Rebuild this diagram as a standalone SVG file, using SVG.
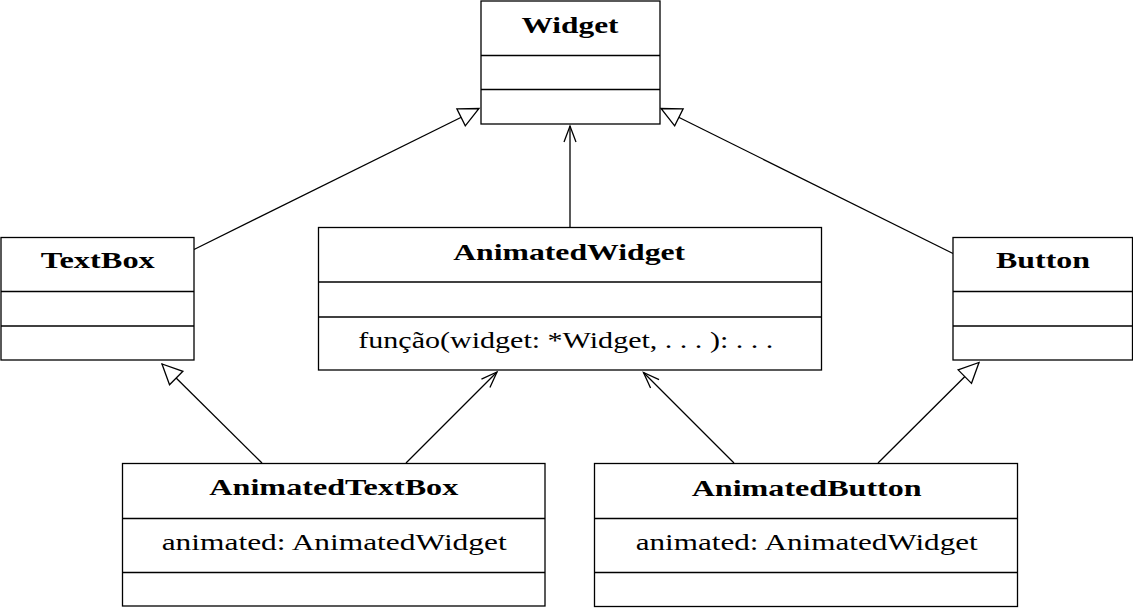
<svg xmlns="http://www.w3.org/2000/svg" width="1133" height="608" viewBox="0 0 1133 608">
<style>
.box{fill:#fff;stroke:#000;stroke-width:1.3}
.div{stroke:#000;stroke-width:1.3}
.t{font-family:"Liberation Serif","Times New Roman",serif;font-size:23px;fill:#000;text-anchor:middle}
.b{font-weight:bold}
.c{stroke:#000;stroke-width:1.3;fill:none}
.gen{marker-end:url(#tri)}
.asc{marker-end:url(#open)}
</style>
<defs>
<marker id="tri" markerUnits="userSpaceOnUse" markerWidth="26" markerHeight="26" viewBox="0 0 26 26" refX="22" refY="12" orient="auto">
<path d="M2,2.5 L22,12 L2,21.5 Z" fill="#fff" stroke="#000" stroke-width="1.3"/>
</marker>
<marker id="open" markerUnits="userSpaceOnUse" markerWidth="26" markerHeight="26" viewBox="0 0 26 26" refX="20" refY="12" orient="auto">
<path d="M4,6 L20,12 L4,18" fill="none" stroke="#000" stroke-width="1.3"/>
</marker>
</defs>
<g id="connectors">
<line class="c gen" x1="194" y1="249.5" x2="479" y2="108.5"/>
<line class="c gen" x1="953" y1="253.5" x2="661" y2="108.5"/>
<line class="c asc" x1="570" y1="227" x2="570" y2="126"/>
<line class="c gen" x1="262" y1="463" x2="162" y2="364"/>
<line class="c asc" x1="406" y1="463" x2="497" y2="372"/>
<line class="c asc" x1="734" y1="463" x2="643.5" y2="372.5"/>
<line class="c gen" x1="878" y1="463" x2="979" y2="362.5"/>
</g>
<g id="Widget">
<rect class="box" x="481" y="1" width="179" height="123"/>
<line class="div" x1="481" y1="55.5" x2="660" y2="55.5"/>
<line class="div" x1="481" y1="89.5" x2="660" y2="89.5"/>
<text class="t b" x="570" y="33" textLength="97" lengthAdjust="spacingAndGlyphs">Widget</text>
</g>
<g id="TextBox">
<rect class="box" x="1" y="237.5" width="193" height="122.5"/>
<line class="div" x1="1" y1="291.5" x2="194" y2="291.5"/>
<line class="div" x1="1" y1="326" x2="194" y2="326"/>
<text class="t b" x="97.8" y="268" textLength="114" lengthAdjust="spacingAndGlyphs">TextBox</text>
</g>
<g id="AnimatedWidget">
<rect class="box" x="318.5" y="227.5" width="503" height="142.5"/>
<line class="div" x1="318.5" y1="282" x2="821.5" y2="282"/>
<line class="div" x1="318.5" y1="317" x2="821.5" y2="317"/>
<text class="t b" x="569.2" y="260" textLength="232" lengthAdjust="spacingAndGlyphs">AnimatedWidget</text>
<text class="t" x="565.8" y="348" textLength="415" lengthAdjust="spacingAndGlyphs">função(widget: *Widget, . . . ): . . .</text>
</g>
<g id="Button">
<rect class="box" x="953" y="237.5" width="179.5" height="122.5"/>
<line class="div" x1="953" y1="291.5" x2="1132.5" y2="291.5"/>
<line class="div" x1="953" y1="326" x2="1132.5" y2="326"/>
<text class="t b" x="1043" y="268" textLength="94" lengthAdjust="spacingAndGlyphs">Button</text>
</g>
<g id="AnimatedTextBox">
<rect class="box" x="122.5" y="463.5" width="422.5" height="142.5"/>
<line class="div" x1="122.5" y1="518.5" x2="545" y2="518.5"/>
<line class="div" x1="122.5" y1="572.5" x2="545" y2="572.5"/>
<text class="t b" x="333.8" y="495" textLength="249" lengthAdjust="spacingAndGlyphs">AnimatedTextBox</text>
<text class="t" x="334.2" y="550" textLength="345" lengthAdjust="spacingAndGlyphs">animated: AnimatedWidget</text>
</g>
<g id="AnimatedButton">
<rect class="box" x="594.5" y="463.5" width="423" height="143"/>
<line class="div" x1="594.5" y1="518.5" x2="1017.5" y2="518.5"/>
<line class="div" x1="594.5" y1="572.5" x2="1017.5" y2="572.5"/>
<text class="t b" x="806.7" y="496" textLength="230" lengthAdjust="spacingAndGlyphs">AnimatedButton</text>
<text class="t" x="806.7" y="550" textLength="342" lengthAdjust="spacingAndGlyphs">animated: AnimatedWidget</text>
</g>
</svg>
